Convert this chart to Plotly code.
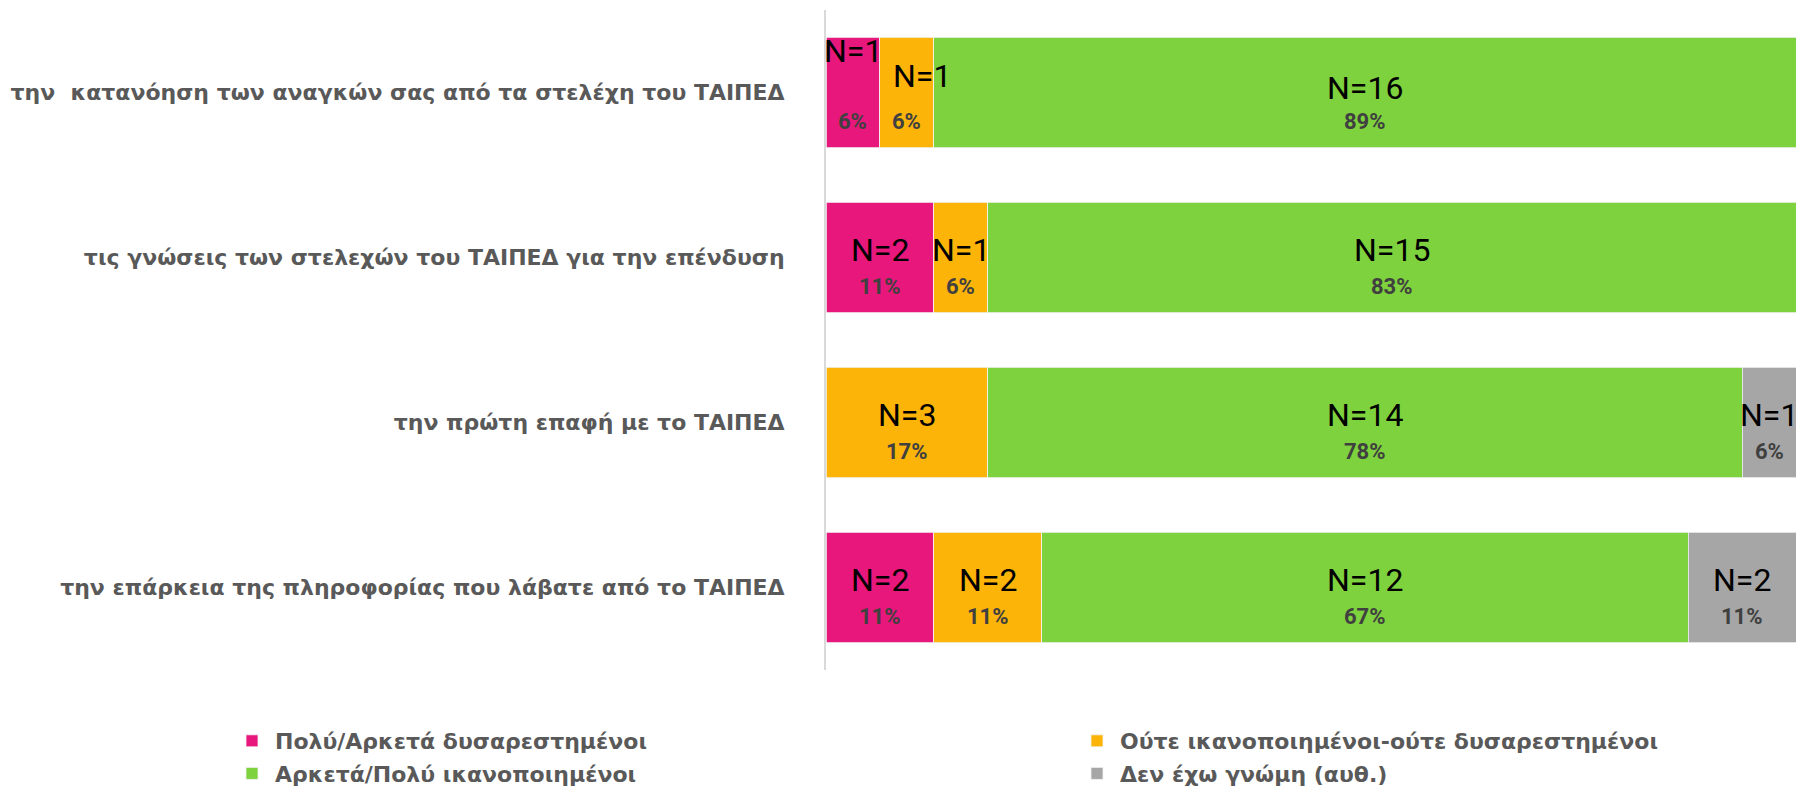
import plotly.graph_objects as go

categories = [
    "την\u00a0 κατανόηση των αναγκών σας από τα στελέχη του ΤΑΙΠΕΔ",
    "τις γνώσεις των στελεχών του ΤΑΙΠΕΔ για την επένδυση",
    "την πρώτη επαφή με το ΤΑΙΠΕΔ",
    "την επάρκεια της πληροφορίας που λάβατε από το ΤΑΙΠΕΔ",
]
series_names = [
    "Πολύ/Αρκετά δυσαρεστημένοι",
    "Ούτε ικανοποιημένοι-ούτε δυσαρεστημένοι",
    "Αρκετά/Πολύ ικανοποιημένοι",
    "Δεν έχω γνώμη (αυθ.)",
]
counts = [
    [1, 2, 0, 2],
    [1, 1, 3, 2],
    [16, 15, 14, 12],
    [0, 0, 1, 2],
]
pct_labels = [
    ["6%", "11%", "", "11%"],
    ["6%", "6%", "17%", "11%"],
    ["89%", "83%", "78%", "67%"],
    ["", "", "6%", "11%"],
]
colors = ["#E8177C", "#FDB408", "#7ED23D", "#A6A6A6"]
legend_ids = ["legend", "legend2", "legend", "legend2"]

totals = [sum(c[i] for c in counts) for i in range(len(categories))]
shares = [[c[i] / totals[i] * 100 for i in range(len(categories))] for c in counts]

fig = go.Figure()
for s, name in enumerate(series_names):
    fig.add_trace(go.Bar(
        y=categories, x=shares[s], name=name, orientation="h",
        marker=dict(color=colors[s], line=dict(color="#f2f2f2", width=0.8)),
        legend=legend_ids[s], legendgroup=f"g{s}",
        hoverinfo="skip",
    ))

# label nudges (pixels) for crowded segments: (series, category) -> (dx, dy)
n_nudge = {(0, 0): (0, 42), (1, 0): (15, 17), (2, 0): (0, 5)}
annotations = []
for i, cat in enumerate(categories):
    cum = 0.0
    for s in range(len(series_names)):
        w = shares[s][i]
        if counts[s][i] > 0:
            mid = cum + w / 2
            dx, dy = n_nudge.get((s, i), (0, 8))
            annotations.append(dict(
                x=mid, y=cat, xref="x", yref="y", text=f"N={counts[s][i]}",
                showarrow=False, xshift=dx, yshift=dy,
                font=dict(family="Roboto, sans-serif", size=32, color="#000000"),
            ))
            annotations.append(dict(
                x=mid, y=cat, xref="x", yref="y", text=f"<b>{pct_labels[s][i]}</b>",
                showarrow=False, yshift=-29,
                font=dict(family="Roboto, sans-serif", size=22, color="#404040"),
            ))
        cum += w

L, R, T, B = 818, 27, 2, 126
plot_w = 1815 - L - R
legend_font = dict(family="DejaVu Sans, sans-serif", size=22, color="#595959", weight="bold")
fig.update_layout(
    width=1815, height=788,
    margin=dict(l=L, r=R, t=T, b=B, autoexpand=False),
    paper_bgcolor="white", plot_bgcolor="white",
    barmode="stack", bargap=0.333,
    showlegend=True,
    legend=dict(orientation="v", xref="paper", yref="container",
                x=(221 - L) / plot_w, y=1 - 712 / 788, xanchor="left", yanchor="top",
                font=legend_font, tracegroupgap=1, itemwidth=36,
                bgcolor="rgba(0,0,0,0)"),
    legend2=dict(orientation="v", xref="paper", yref="container",
                 x=(1066 - L) / plot_w, y=1 - 712 / 788, xanchor="left", yanchor="top",
                 font=legend_font, tracegroupgap=1, itemwidth=36,
                 bgcolor="rgba(0,0,0,0)"),
    xaxis=dict(range=[0, 100], visible=False, fixedrange=True),
    yaxis=dict(autorange="reversed", showline=True, linecolor="#D9D9D9", linewidth=2,
               ticks="", ticklabelstandoff=35, showgrid=False, automargin=False,
               tickfont=dict(family="DejaVu Sans, sans-serif", size=22, color="#595959",
                             weight="bold")),
    annotations=annotations,
)
fig.write_html("out.html")
